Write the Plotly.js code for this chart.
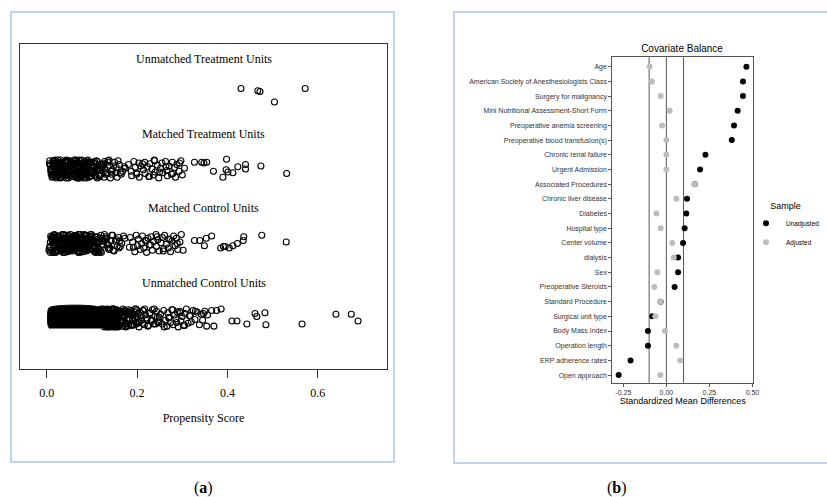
<!DOCTYPE html>
<html>
<head>
<meta charset="utf-8">
<script src="https://cdn.plot.ly/plotly-3.0.1.min.js"></script>
<style>html,body{margin:0;padding:0;background:#fff;}#chart{width:827px;height:497px;}</style>
</head>
<body>
<div id="chart"></div>
<script>
// ---------------- Panel (a): jitter plot of propensity scores ----------------
const groupLabels = ["Unmatched Treatment Units", "Matched Treatment Units", "Matched Control Units", "Unmatched Control Units"];
const groupPos = [4, 3, 2, 1];
const xTickVals1 = [0.0, 0.2, 0.4, 0.6];
const xTickText1 = ["0.0", "0.2", "0.4", "0.6"];

// jitter values are in hundredths of a band unit
const utPS  = [0.430, 0.467, 0.472, 0.504, 0.572];
const utJit = [8, 5, 4, -10, 8];

const mtPS = [
  0.008,0.013,0.019,0.022,0.029,0.033,0.036,0.042,0.046,0.049,0.055,0.058,0.063,0.069,0.072,0.078,0.083,0.088,0.092,0.099,
  0.010,0.016,0.020,0.026,0.031,0.035,0.040,0.044,0.051,0.053,0.060,0.066,0.070,0.075,0.081,0.086,0.090,0.096,0.103,0.109,
  0.007,0.012,0.017,0.024,0.028,0.034,0.038,0.045,0.048,0.056,0.061,0.064,0.071,0.077,0.080,0.087,0.094,0.101,0.107,0.114,
  0.009,0.015,0.021,0.027,0.032,0.039,0.043,0.050,0.054,0.059,0.065,0.068,0.074,0.079,0.085,0.091,0.098,0.105,0.112,0.118,
  0.014,0.023,0.030,0.037,0.047,0.052,0.057,0.067,0.073,0.082,0.089,0.095,0.102,0.110,0.117,0.121,0.126,0.132,0.138,0.143,
  0.011,0.025,0.041,0.062,0.076,0.084,0.093,0.100,0.106,0.113,0.119,0.124,0.129,0.135,0.141,0.148,0.153,0.158,0.165,0.172,
  0.018,0.033,0.046,0.058,0.070,0.088,0.097,0.108,0.116,0.123,0.128,0.134,0.139,0.146,0.150,0.156,0.161,0.168,0.174,0.131,
  0.006,0.010,0.015,0.019,0.025,0.028,0.034,0.039,0.043,0.047,0.052,0.056,0.061,0.066,0.069,0.074,0.079,0.084,0.089,0.093,
  0.012,0.017,0.022,0.027,0.031,0.036,0.041,0.048,0.053,0.058,0.063,0.068,0.072,0.077,0.083,0.087,0.092,0.097,0.104,0.111,
  0.009,0.014,0.020,0.030,0.035,0.040,0.045,0.050,0.055,0.060,0.064,0.071,0.076,0.081,0.086,0.095,0.100,0.115,0.122,0.127,
  0.016,0.026,0.038,0.044,0.049,0.057,0.062,0.067,0.073,0.078,0.082,0.091,0.099,0.106,0.112,0.119,0.136,0.144,0.154,0.163,
  0.181,0.187,0.188,0.193,0.196,0.199,0.204,0.205,0.208,0.214,0.217,0.218,0.223,0.226,0.228,0.233,0.236,0.239,0.240,0.245,
  0.248,0.252,0.255,0.257,0.263,0.266,0.267,0.271,0.276,0.278,0.283,0.285,0.288,0.293,0.297,0.300,0.305,0.199,0.212,0.227,
  0.238,0.250,0.264,0.279,0.294,
  0.327,0.343,0.348,0.354,0.369,0.398,0.397,0.401,0.390,0.412,0.423,0.440,0.440,0.474,0.531
];
const mtJit = [
  5,-8,11,-3,7,-11,2,9,-6,0,-10,4,12,-4,8,-9,1,-12,6,-2,
  -7,10,-1,6,-11,3,-5,12,-9,7,-2,11,-8,1,-12,5,9,-4,2,-10,
  11,-4,7,-10,1,9,-7,3,-12,6,-1,10,-6,12,-3,8,-11,4,-8,0,
  -2,6,-12,9,-5,2,11,-8,5,-3,8,-11,0,7,-6,12,-9,3,10,-1,
  8,-6,3,-9,10,-1,6,-12,4,-7,1,9,-4,11,-10,2,7,-5,12,-3,
  0,12,-9,5,-3,-11,8,-6,10,1,-8,6,-2,9,-12,4,-5,11,-7,3,
  -10,4,8,-2,-12,11,-4,7,-9,2,10,-6,5,-1,9,-11,6,-3,1,-7,
  7,-4,-10,12,3,-7,9,-1,-12,5,11,-8,2,-5,8,-11,0,10,-3,6,
  -11,2,9,-6,12,-2,-8,4,10,-10,-3,7,-12,11,1,-6,5,-9,8,-1,
  1,11,-5,-12,6,10,-3,-9,8,2,-7,12,-10,4,-1,9,-6,0,5,-11,
  -6,-1,4,10,-9,7,12,-4,-11,3,-8,1,9,-2,-12,6,11,-7,2,-5,
  6,-3,-9,10,2,-7,8,-11,4,-1,9,-6,3,-10,7,0,-8,11,-4,5,
  -12,1,8,-5,10,-2,-9,4,-7,9,2,-11,6,-3,11,-8,1,-5,7,-10,
  12,-4,3,-6,8,
  9,9,8,9,-3,13,-1,-4,-11,-5,3,6,0,4,-6
];

const mcPS = [
  0.007,0.012,0.018,0.023,0.028,0.032,0.037,0.041,0.045,0.050,0.054,0.059,0.062,0.068,0.073,0.077,0.082,0.087,0.093,0.098,
  0.009,0.015,0.021,0.025,0.030,0.036,0.039,0.046,0.049,0.055,0.058,0.064,0.069,0.074,0.079,0.085,0.091,0.095,0.102,0.108,
  0.006,0.013,0.016,0.022,0.029,0.033,0.040,0.043,0.048,0.053,0.060,0.065,0.070,0.076,0.081,0.088,0.092,0.100,0.106,0.113,
  0.010,0.014,0.020,0.026,0.031,0.038,0.044,0.047,0.052,0.057,0.063,0.067,0.072,0.078,0.084,0.090,0.097,0.104,0.111,0.117,
  0.011,0.019,0.027,0.035,0.042,0.051,0.056,0.061,0.071,0.075,0.083,0.089,0.096,0.101,0.109,0.115,0.120,0.125,0.133,0.140,
  0.008,0.024,0.034,0.047,0.066,0.080,0.086,0.094,0.103,0.110,0.118,0.122,0.128,0.136,0.142,0.147,0.152,0.159,0.163,0.170,
  0.017,0.030,0.044,0.057,0.069,0.090,0.099,0.107,0.114,0.121,0.127,0.131,0.137,0.144,0.149,0.155,0.160,0.166,0.173,0.134,
  0.005,0.011,0.016,0.020,0.024,0.029,0.035,0.038,0.042,0.048,0.051,0.057,0.062,0.065,0.071,0.075,0.080,0.086,0.090,0.096,
  0.013,0.018,0.023,0.028,0.033,0.039,0.045,0.050,0.056,0.061,0.066,0.070,0.077,0.082,0.087,0.093,0.099,0.105,0.112,0.119,
  0.008,0.015,0.021,0.027,0.032,0.037,0.043,0.049,0.053,0.059,0.064,0.068,0.074,0.079,0.084,0.094,0.101,0.116,0.123,0.129,
  0.014,0.025,0.036,0.041,0.046,0.054,0.060,0.063,0.072,0.076,0.083,0.089,0.098,0.107,0.113,0.126,0.138,0.146,0.156,0.161,
  0.183,0.185,0.190,0.195,0.198,0.201,0.203,0.207,0.210,0.212,0.215,0.220,0.221,0.224,0.227,0.231,0.234,0.237,0.242,0.243,
  0.246,0.249,0.253,0.256,0.259,0.261,0.265,0.269,0.270,0.274,0.277,0.281,0.284,0.287,0.290,0.295,0.298,0.302,0.192,0.218,
  0.230,0.244,0.258,0.273,0.289,
  0.327,0.339,0.349,0.353,0.365,0.385,0.391,0.395,0.404,0.412,0.422,0.435,0.436,0.476,0.530
];
const mcJit = [
  -4,9,-11,3,6,-8,12,-1,7,-10,2,10,-5,8,-12,1,-7,11,-3,5,
  10,-2,-9,5,-6,12,0,-11,7,-4,9,-7,3,-10,6,11,-1,-8,4,-12,
  -6,3,11,-9,8,-1,-12,6,2,-7,10,-3,12,-5,4,-10,7,1,-11,9,
  7,-12,1,10,-4,-7,5,11,-9,3,-2,8,-10,6,-6,0,12,-3,-8,2,
  -9,5,-1,12,-7,4,9,-3,-11,6,-5,10,1,-8,3,-12,11,-2,7,-6,
  2,-10,6,-5,11,-3,-8,9,0,-11,7,-1,12,-6,4,-9,3,8,-4,10,
  12,-7,-3,8,1,-9,10,-5,6,-12,3,9,-2,11,-10,5,-6,0,7,-1,
  -9,6,1,-12,10,-4,7,-8,3,11,-2,-10,8,0,-6,12,-11,5,-3,9,
  4,-11,-6,8,-1,11,-9,2,-4,10,6,-12,-2,7,-8,3,12,-5,1,-10,
  -12,9,5,-3,-10,0,11,-7,12,-5,3,-1,8,-11,10,-4,2,-8,6,7,
  8,-3,-12,6,2,-9,-5,10,1,-7,12,-6,-1,9,-10,4,-8,11,-4,3,
  -5,8,2,-11,11,-3,6,-8,0,10,-6,4,-12,7,-2,9,-9,3,12,-4,
  5,-10,1,8,-7,11,-1,-6,6,-11,3,10,-3,7,-8,2,12,-9,-5,4,
  -2,9,-10,5,0,
  4,4,-3,7,10,-6,-4,-4,-6,-3,0,4,9,11,2
];

// unmatched controls: the low-score mass is so dense it prints solid black
const ucCorePS  = [0.006, 0.003, 0.002, 0.003, 0.006, 0.119, 0.124, 0.127, 0.124, 0.119];
const ucCoreJit = [-14, -10, 0, 10, 14, 14, 9, 0, -9, -14];

const ucPS = [
  0.121,0.123,0.125,0.127,0.128,0.130,0.132,0.133,0.135,0.137,0.138,0.140,0.141,0.143,0.145,0.146,0.148,0.150,0.151,0.153,
  0.122,0.124,0.126,0.129,0.131,0.134,0.136,0.139,0.142,0.144,0.147,0.149,0.152,0.154,0.156,0.158,0.160,0.162,0.164,0.166,
  0.120,0.126,0.131,0.136,0.141,0.145,0.150,0.155,0.157,0.161,0.163,0.167,0.169,0.171,0.173,0.176,0.178,0.180,0.183,0.185,
  0.128,0.134,0.139,0.144,0.149,0.154,0.159,0.165,0.168,0.172,0.175,0.179,0.182,0.186,0.188,0.191,0.193,0.196,0.199,0.202,
  0.137,0.146,0.155,0.162,0.170,0.174,0.181,0.184,0.189,0.192,0.195,0.198,0.201,0.204,0.207,0.210,0.213,0.216,0.219,0.222,
  0.152,0.166,0.177,0.187,0.194,0.200,0.205,0.209,0.212,0.217,0.221,0.225,0.228,0.231,0.234,0.237,0.240,0.243,0.246,0.249,
  0.190,0.203,0.214,0.224,0.229,0.233,0.238,0.241,0.245,0.248,
  0.120,0.122,0.124,0.126,0.128,0.129,0.131,0.133,0.134,0.136,0.138,0.139,0.141,0.142,0.144,0.146,0.147,0.149,0.151,0.154,
  0.121,0.125,0.127,0.130,0.132,0.135,0.137,0.140,0.143,0.145,0.148,0.150,0.153,0.155,0.157,0.159,0.161,0.164,0.167,0.170,
  0.123,0.129,0.133,0.138,0.142,0.147,0.151,0.156,0.158,0.163,0.165,0.168,0.172,0.174,0.177,0.181,0.184,0.189,0.194,0.198,
  0.252,0.256,0.259,0.263,0.266,0.268,0.271,0.274,0.277,0.280,0.283,0.286,0.289,0.291,0.294,0.297,0.300,0.303,0.306,0.309,
  0.313,0.316,0.320,0.324,0.328,0.333,0.338,0.342,0.260,0.270,0.279,0.288,0.296,0.305,0.318,0.329,0.345,0.347,
  0.350,0.356,0.365,0.376,0.386,0.354,0.370,0.410,0.421,0.443,0.461,0.465,0.483,0.485,0.565,0.640,0.674,0.689
];
const ucJit = [
  3,-9,12,-5,8,-1,-11,6,10,-7,1,-3,9,-12,5,11,-6,-2,7,-10,
  -8,6,-1,11,-4,9,-12,2,-6,12,4,-9,7,-3,10,-11,0,8,-5,3,
  10,-5,4,-12,7,1,-8,11,-2,-10,6,-4,12,2,-7,9,-11,5,-1,8,
  -3,11,-7,0,12,-10,5,-6,9,3,-12,7,-1,10,-9,4,-4,12,-8,6,
  6,-11,9,-4,2,-8,11,-1,-10,5,8,-6,1,-12,7,-3,10,-9,4,-2,
  -12,8,-2,5,-9,10,-5,3,-7,12,0,-10,6,-4,11,-8,2,9,-6,1,
  4,-6,10,-11,7,-3,12,-8,1,-5,
  -7,10,-2,5,-12,8,1,-9,12,-4,6,-11,3,9,-6,0,11,-8,4,-1,
  12,-3,7,-10,4,-6,10,-1,-8,2,11,-12,5,-5,8,-9,1,6,-11,9,
  -1,-9,11,3,-5,12,-7,6,-12,9,-3,2,10,-8,5,-10,7,-4,0,12,
  5,-8,10,-3,-11,7,1,-6,11,-9,4,-1,8,-12,9,-4,2,-10,6,12,
  -7,3,-5,10,-2,8,-9,5,-12,0,11,-6,7,-10,3,9,-3,6,
  9,4,10,10,12,-11,-11,-4,-4,-8,6,2,7,-9,-8,5,5,-4
];

// ---------------- Panel (b): covariate balance (Love plot) ----------------
const covariates = [
  "Age", "American Society of Anesthesiologists Class", "Surgery for malignancy",
  "Mini Nutritional Assessment-Short Form", "Preoperative anemia screening",
  "Preoperative blood transfusion(s)", "Chronic renal failure", "Urgent Admission",
  "Associated Procedures", "Chronic liver disease", "Diabetes", "Hospital type",
  "Center volume", "dialysis", "Sex", "Preoperative Steroids", "Standard Procedure",
  "Surgical unit type", "Body Mass Index", "Operation length", "ERP adherence rates",
  "Open approach"
];
const smdUnadjusted = [0.465, 0.445, 0.445, 0.414, 0.393, 0.380, 0.227, 0.196, 0.165, 0.120, 0.116,
  0.106, 0.097, 0.068, 0.068, 0.048, -0.033, -0.082, -0.107, -0.107, -0.208, -0.277];
const smdAdjusted = [-0.097, -0.084, -0.033, 0.019, -0.025, 0.000, 0.000, 0.000, 0.165, 0.058, -0.058,
  -0.033, 0.035, 0.043, -0.052, -0.070, -0.033, -0.064, -0.008, 0.058, 0.081, -0.035];
const thresholdLines = [-0.1, 0, 0.1];
const xTickVals2 = [-0.25, 0, 0.25, 0.5];
const xTickText2 = ["-0.25", "0.00", "0.25", "0.50"];

// ---------------- build ----------------
function bandY(pos, jit) { return jit.map(j => pos + j / 100); }
const openCircle = { symbol: "circle-open", size: 6, color: "#000", line: { width: 1.1, color: "#000" } };

const traces = [
  { type: "scatter", mode: "markers", name: groupLabels[0], showlegend: false, hoverinfo: "x",
    x: utPS, y: bandY(groupPos[0], utJit), xaxis: "x", yaxis: "y", marker: openCircle },
  { type: "scatter", mode: "markers", name: groupLabels[1], showlegend: false, hoverinfo: "x",
    x: mtPS, y: bandY(groupPos[1], mtJit), xaxis: "x", yaxis: "y", marker: openCircle },
  { type: "scatter", mode: "markers", name: groupLabels[2], showlegend: false, hoverinfo: "x",
    x: mcPS, y: bandY(groupPos[2], mcJit), xaxis: "x", yaxis: "y", marker: openCircle },
  { type: "scatter", mode: "lines", name: groupLabels[3] + " (dense)", showlegend: false, hoverinfo: "skip",
    x: ucCorePS, y: bandY(groupPos[3], ucCoreJit), xaxis: "x", yaxis: "y",
    fill: "toself", fillcolor: "#000", line: { color: "#000", width: 1, shape: "spline" } },
  { type: "scatter", mode: "markers", name: groupLabels[3], showlegend: false, hoverinfo: "x",
    x: ucPS, y: bandY(groupPos[3], ucJit), xaxis: "x", yaxis: "y", marker: openCircle },
  { type: "scatter", mode: "markers", name: "Unadjusted", x: smdUnadjusted, y: covariates,
    xaxis: "x2", yaxis: "y2", marker: { color: "#000", size: 6 } },
  { type: "scatter", mode: "markers", name: "Adjusted", x: smdAdjusted, y: covariates,
    xaxis: "x2", yaxis: "y2", marker: { color: "#bdbdbd", size: 6 } }
];

const W = 827, H = 497;
const px = v => v / W, py = v => 1 - v / H;
const serif = "Liberation Serif";
const sans = "Liberation Sans";

const annotations = groupLabels.map((t, i) => ({
  text: t, xref: "x", yref: "y", x: 0.347, y: groupPos[i] + 0.47, showarrow: false,
  font: { family: serif, size: 12, color: "#000" }, xanchor: "center", yanchor: "middle"
}));
annotations.push(
  { text: "(<b>a</b>)", xref: "paper", yref: "paper", x: px(203), y: py(488), showarrow: false,
    font: { family: serif, size: 16, color: "#000" }, xanchor: "center", yanchor: "middle" },
  { text: "(<b>b</b>)", xref: "paper", yref: "paper", x: px(617), y: py(488), showarrow: false,
    font: { family: serif, size: 16, color: "#000" }, xanchor: "center", yanchor: "middle" }
);

const shapes = thresholdLines.map(v => ({
  type: "line", xref: "x2", yref: "y2 domain", x0: v, x1: v, y0: 0, y1: 1, layer: "below",
  line: { color: "#555", width: 1 }
}));
shapes.push(
  { type: "rect", xref: "paper", yref: "paper", x0: px(11), x1: px(394), y0: py(462), y1: py(12),
    line: { color: "#a9c6e6", width: 1.5 }, fillcolor: "rgba(0,0,0,0)" },
  { type: "rect", xref: "paper", yref: "paper", x0: px(454), x1: px(835), y0: py(463), y1: py(12),
    line: { color: "#a9c6e6", width: 1.5 }, fillcolor: "rgba(0,0,0,0)" }
);

const layout = {
  width: W, height: H, autosize: false,
  margin: { l: 0, r: 0, t: 0, b: 0, autoexpand: false },
  paper_bgcolor: "#fff", plot_bgcolor: "rgba(0,0,0,0)",
  font: { family: sans, color: "#000" },
  title: { text: "Covariate Balance", xref: "paper", yref: "paper", x: px(682), y: py(48),
    xanchor: "center", yanchor: "middle", font: { family: sans, size: 10, color: "#000" } },
  xaxis: {
    domain: [px(20), px(387)], anchor: "y", range: [-0.059, 0.753],
    tickvals: xTickVals1, ticktext: xTickText1, ticks: "outside", ticklen: 8, tickwidth: 1, tickcolor: "#333",
    ticklabelstandoff: 5, automargin: false,
    showline: true, mirror: true, linecolor: "#333", linewidth: 1, showgrid: false, zeroline: false,
    tickfont: { family: serif, size: 12, color: "#000" },
    title: { text: "Propensity Score", font: { family: serif, size: 12, color: "#000" }, standoff: 14 }
  },
  yaxis: {
    domain: [1 - 369 / H, 1 - 44 / H], anchor: "x", range: [0.315, 4.678], automargin: false,
    showline: true, mirror: true, linecolor: "#333", linewidth: 1,
    showticklabels: false, ticks: "", showgrid: false, zeroline: false
  },
  xaxis2: {
    domain: [px(612.3), px(753.3)], anchor: "y2", range: [-0.314, 0.505], automargin: false,
    tickvals: xTickVals2, ticktext: xTickText2, ticks: "outside", ticklen: 3, tickwidth: 1, tickcolor: "#555",
    showline: true, mirror: true, linecolor: "#555", linewidth: 1, showgrid: false, zeroline: false,
    tickfont: { family: sans, size: 7, color: "#333" },
    title: { text: "Standardized Mean Differences", font: { family: sans, size: 9, color: "#000" }, standoff: 1 }
  },
  yaxis2: {
    domain: [1 - 382.7 / H, 1 - 57.3 / H], anchor: "x2", type: "category", automargin: false,
    categoryorder: "array", categoryarray: covariates, range: [21.52, -0.64],
    ticks: "outside", ticklen: 3, tickwidth: 1, tickcolor: "#555",
    showline: true, mirror: true, linecolor: "#555", linewidth: 1, showgrid: false, zeroline: false,
    tickfont: { family: sans, size: 7, color: "#333" }
  },
  legend: {
    x: px(746), xanchor: "left", y: py(197), yanchor: "top",
    bgcolor: "rgba(0,0,0,0)", borderwidth: 0,
    title: { text: "Sample", font: { family: sans, size: 9, color: "#000" }, side: "top center" },
    font: { family: sans, size: 6.5, color: "#000" }, tracegroupgap: 0
  },
  shapes: shapes,
  annotations: annotations
};

Plotly.newPlot("chart", traces, layout, { staticPlot: true, displayModeBar: false });
</script>
</body>
</html>
